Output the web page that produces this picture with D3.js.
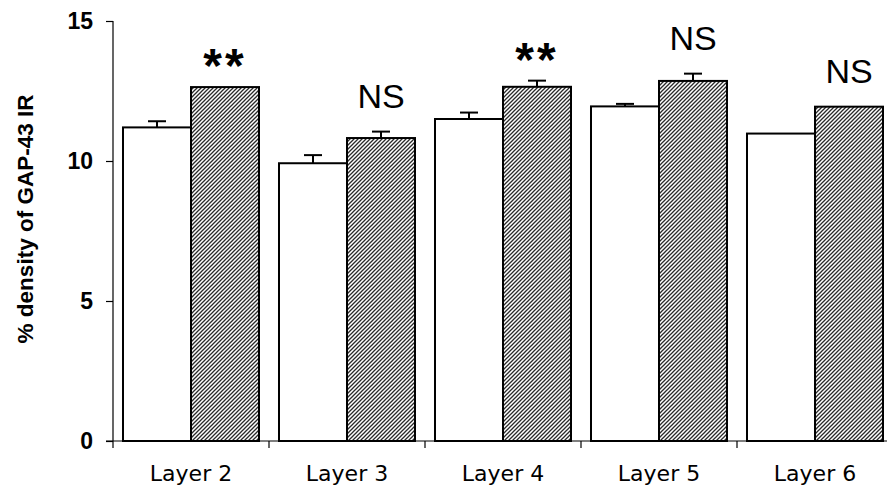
<!DOCTYPE html>
<html>
<head>
<meta charset="utf-8">
<script src="https://cdn.jsdelivr.net/npm/d3@7"></script>
<style>
  html, body { margin: 0; padding: 0; background: #fff; overflow: hidden; }
  svg { display: block; }
</style>
</head>
<body>
<svg id="chart" width="887" height="491"></svg>
<script>
// Cortical layers and the two groups compared in each
const layers = ["Layer 2", "Layer 3", "Layer 4", "Layer 5", "Layer 6"];
const groups = ["control", "treated"];

// Mean % density of GAP-43 immunoreactivity
const controlMeans = [11.2, 9.92, 11.5, 11.95, 10.98];
const treatedMeans = [12.64, 10.82, 12.65, 12.86, 11.94];

// Standard errors (upper whisker only)
const controlErr = [0.22, 0.29, 0.23, 0.09, 0.0];
const treatedErr = [0.0, 0.23, 0.22, 0.26, 0.0];

// Significance marks shown over the treated bar
const significance = ["**", "NS", "**", "NS", "NS"];

const yTicks = [0, 5, 10, 15];

const svg = d3.select("#chart");

const margin = { left: 113, top: 21 };
const plotBottom = 441;
const step = 156;

const x = d3.scaleBand()
  .domain(layers)
  .range([margin.left, margin.left + step * layers.length])
  .paddingInner(0)
  .paddingOuter(0);

const xInner = d3.scaleBand()
  .domain(groups)
  .range([0, x.bandwidth()])
  .paddingInner(0)
  .paddingOuter(0.147);

const y = d3.scaleLinear()
  .domain([0, 15])
  .range([plotBottom, margin.top]);

// Diagonal hatching for the treated group
const defs = svg.append("defs");
const pat = defs.append("pattern")
  .attr("id", "hatch")
  .attr("patternUnits", "userSpaceOnUse")
  .attr("width", 4)
  .attr("height", 4);
pat.append("rect").attr("width", 4).attr("height", 4).attr("fill", "#fff");
pat.append("path")
  .attr("d", "M-1,1 l2,-2 M0,4 l4,-4 M3,5 l2,-2")
  .attr("stroke", "#2a2a2a")
  .attr("stroke-width", 1.3);

const rows = layers.map((layer, i) => ({
  layer,
  bars: [
    { group: "control", mean: controlMeans[i], err: controlErr[i] },
    { group: "treated", mean: treatedMeans[i], err: treatedErr[i] }
  ],
  mark: significance[i]
}));

// Bars
const g = svg.append("g");
const layerG = g.selectAll("g.layer")
  .data(rows)
  .join("g")
  .attr("class", "layer")
  .attr("transform", d => `translate(${x(d.layer)},0)`);

layerG.selectAll("rect")
  .data(d => d.bars)
  .join("rect")
  .attr("x", d => xInner(d.group))
  .attr("width", xInner.bandwidth())
  .attr("y", d => y(d.mean))
  .attr("height", d => y(0) - y(d.mean))
  .attr("fill", d => d.group === "treated" ? "url(#hatch)" : "#fff")
  .attr("stroke", "#000")
  .attr("stroke-width", 2);

// Upper error whiskers
const capHalf = 9;
const errG = layerG.selectAll("g.err")
  .data(d => d.bars.filter(b => b.err > 0))
  .join("g")
  .attr("class", "err");
errG.append("line")
  .attr("x1", d => xInner(d.group) + xInner.bandwidth() / 2)
  .attr("x2", d => xInner(d.group) + xInner.bandwidth() / 2)
  .attr("y1", d => y(d.mean))
  .attr("y2", d => y(d.mean + d.err))
  .attr("stroke", "#000")
  .attr("stroke-width", 2);
errG.append("line")
  .attr("x1", d => xInner(d.group) + xInner.bandwidth() / 2 - capHalf)
  .attr("x2", d => xInner(d.group) + xInner.bandwidth() / 2 + capHalf)
  .attr("y1", d => y(d.mean + d.err))
  .attr("y2", d => y(d.mean + d.err))
  .attr("stroke", "#000")
  .attr("stroke-width", 2);

// Significance labels above the treated bars
layerG.append("text")
  .attr("x", xInner("treated") + xInner.bandwidth() / 2)
  .attr("y", d => {
    const t = d.bars[1];
    const top = y(t.mean + t.err);
    return d.mark === "NS" ? top - 24 : top - 5;
  })
  .attr("text-anchor", "middle")
  .attr("font-family", "'Liberation Sans', Arial, sans-serif")
  .attr("font-weight", d => d.mark === "NS" ? "normal" : "bold")
  .attr("font-size", d => d.mark === "NS" ? 34 : 48)
  .attr("letter-spacing", d => d.mark === "NS" ? 0 : 3)
  .text(d => d.mark);

// Y axis
const yAxis = d3.axisLeft(y)
  .tickValues(yTicks)
  .tickSize(7)
  .tickPadding(13)
  .tickFormat(d3.format("d"));
const yG = svg.append("g")
  .attr("transform", `translate(${margin.left},0)`)
  .call(yAxis);
yG.select(".domain").attr("stroke", "#000").attr("stroke-width", 1.2)
  .attr("d", `M0,${y(15)}V${y(0)}`);
yG.selectAll(".tick line").attr("stroke", "#000").attr("stroke-width", 1.2);
yG.selectAll(".tick text")
  .attr("font-family", "'Liberation Sans', Arial, sans-serif")
  .attr("font-weight", "bold")
  .attr("font-size", 23)
  .attr("fill", "#000");

// X axis
const xAxis = d3.axisBottom(x)
  .tickSize(0)
  .tickPadding(24);
const xG = svg.append("g")
  .attr("transform", `translate(0,${plotBottom})`)
  .call(xAxis);
xG.select(".domain").attr("stroke", "#000").attr("stroke-width", 1.2)
  .attr("d", `M${margin.left - 7},0H${margin.left + step * layers.length}`);
xG.selectAll(".tick text")
  .attr("font-family", "'DejaVu Sans', Verdana, sans-serif")
  .attr("font-size", 22)
  .attr("fill", "#000");

// Boundary ticks between layer groups
xG.selectAll("line.sep")
  .data(layers)
  .join("line")
  .attr("class", "sep")
  .attr("x1", d => x(d))
  .attr("x2", d => x(d))
  .attr("y1", 0)
  .attr("y2", 7)
  .attr("stroke", "#000")
  .attr("stroke-width", 1.2);

// Y axis title
svg.append("text")
  .attr("transform", "translate(33,219) rotate(-90)")
  .attr("text-anchor", "middle")
  .attr("font-family", "'Liberation Sans', Arial, sans-serif")
  .attr("font-weight", "bold")
  .attr("font-size", 22.5)
  .text("% density of GAP-43 IR");
</script>
</body>
</html>
